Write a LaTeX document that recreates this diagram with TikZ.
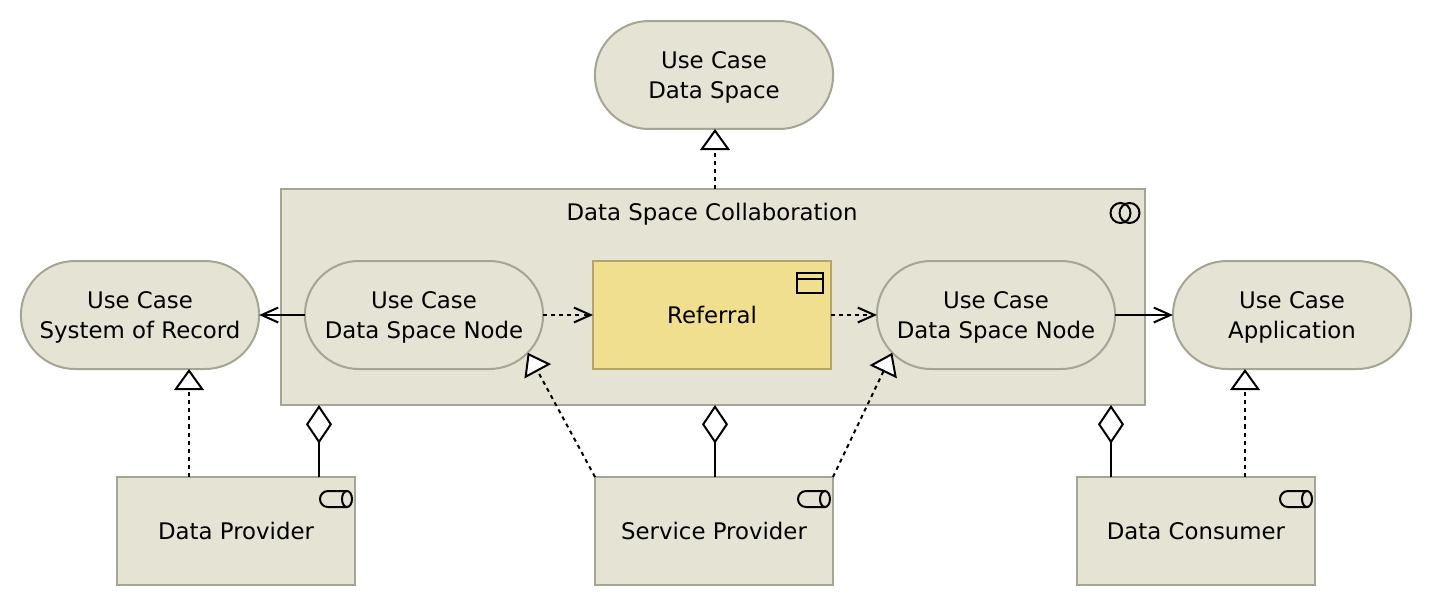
\documentclass[tikz,border=0pt]{standalone}
\usepackage{xcolor}
\usepackage{fontspec}
\usepackage{tikz}
\setmainfont{DejaVu Sans}
\usetikzlibrary{shapes.misc, arrows.meta, calc}
\definecolor{boxfill}{HTML}{E5E3D3}
\definecolor{boxedge}{HTML}{A5A594}
\definecolor{objectfill}{HTML}{F0DF8F}
\definecolor{objectedge}{HTML}{B3A566}
\tikzstyle{usecase} = [rounded rectangle, minimum width=5cm, minimum height=2.16cm, outer sep=0pt, align=center, draw=boxedge, fill=boxfill, line width=0.04cm, font=\fontsize{13}{17}\selectfont]
\tikzstyle{actorbox} = [rectangle, minimum width=4.76cm, minimum height=2.16cm, outer sep=0pt, align=center, draw=boxedge, fill=boxfill, line width=0.04cm, font=\fontsize{13}{17}\selectfont]
\tikzstyle{objectbox} = [actorbox, draw=objectedge, fill=objectfill]
\tikzstyle{collabbox} = [actorbox, minimum width=17.28cm, minimum height=4.32cm]
\tikzstyle{caption} = [font=\fontsize{13}{17}\selectfont]
\tikzstyle{icon} = [black, line width=0.04cm]
\tikzstyle{access} = [black, line width=0.04cm, -{Straight Barb[length=9.5pt, width=8.5pt]}]
\tikzstyle{flow} = [access, dash pattern=on 2.3pt off 2.3pt]
\tikzstyle{realize} = [black, line width=0.04cm, dash pattern=on 2.3pt off 2.3pt, -{Triangle[open, fill=white, length=12pt, width=17pt]}]
\tikzstyle{aggregate} = [black, line width=0.04cm, -{Diamond[open, fill=white, length=22pt, width=14.8pt]}]
% two line label of a use case, set a little low in its pill
\newcommand{\casetext}[1]{\rule{0pt}{12pt}Use Case\\#1}
% role icon in the upper right corner of a box
\newcommand{\roleicon}[1]{
    \begin{scope}[shift={(#1.north east)}]
        \draw[icon] (-8,14) -- (-27,14) arc[start angle=-90, end angle=-270, radius=8] -- (-8,30);
        \draw[icon] (-8,22) ellipse[x radius=5, y radius=8];
    \end{scope}
}

\begin{document}
\begin{tikzpicture}[x=0.02cm, y=-0.02cm]
    \useasboundingbox (0,0) rectangle (1432,606);
    % Collaboration with its parts
    \node[collabbox] (collab) at (713,297) {};
    \node[caption] (collabtitle) at (712,214) {Data Space Collaboration};
    \node[usecase] (spacenode) at (424,315) {\casetext{Data Space Node}};
    \node[objectbox] (referral) at (712,315) {Referral};
    \node[usecase] (appnode) at (996,315) {\casetext{Data Space Node}};
    % Outer use cases
    \node[usecase] (dataspace) at (714,75) {\casetext{Data Space}};
    \node[usecase] (record) at (140,315) {\casetext{System of Record}};
    \node[usecase] (application) at (1292,315) {\casetext{Application}};
    % Roles
    \node[actorbox] (provider) at (236,531) {Data Provider};
    \node[actorbox] (service) at (714,531) {Service Provider};
    \node[actorbox] (consumer) at (1196,531) {Data Consumer};

    % Icons
    \draw[icon] (1120.5,213) circle[radius=10];
    \draw[icon] (1129.5,213) circle[radius=10];
    \draw[icon] ($(referral.north east)+(-34,12)$) rectangle ($(referral.north east)+(-8,32)$);
    \draw[icon] ($(referral.north east)+(-34,18)$) -- ($(referral.north east)+(-8,18)$);
    \roleicon{provider}
    \roleicon{service}
    \roleicon{consumer}

    % Connectors
    \coordinate (spacereal) at ($(dataspace.south)+(1,0)$);
    \coordinate (providerreal) at ($(provider.north)+(-47,0)$);
    \coordinate (providerpart) at ($(provider.north)+(83,0)$);
    \coordinate (servicepart) at ($(service.north)+(1,0)$);
    \coordinate (consumerpart) at ($(consumer.north)+(-85,0)$);
    \coordinate (consumerreal) at ($(consumer.north)+(49,0)$);

    \draw[realize] (spacereal |- collab.north) -- (spacereal);
    \draw[access] (spacenode.west) -- (record.east);
    \draw[access] (appnode.east) -- (application.west);
    \draw[flow] (spacenode.east) -- (referral.west);
    \draw[flow] (referral.east) -- (appnode.west);
    \draw[realize] (providerreal) -- (providerreal |- record.south);
    \draw[realize] (consumerreal) -- (consumerreal |- application.south);
    \draw[realize] (service.north west) -- (spacenode.340);
    \draw[realize] (service.north east) -- (appnode.200);
    \draw[aggregate] (providerpart) -- (providerpart |- collab.south);
    \draw[aggregate] (servicepart) -- (servicepart |- collab.south);
    \draw[aggregate] (consumerpart) -- (consumerpart |- collab.south);
\end{tikzpicture}
\end{document}
